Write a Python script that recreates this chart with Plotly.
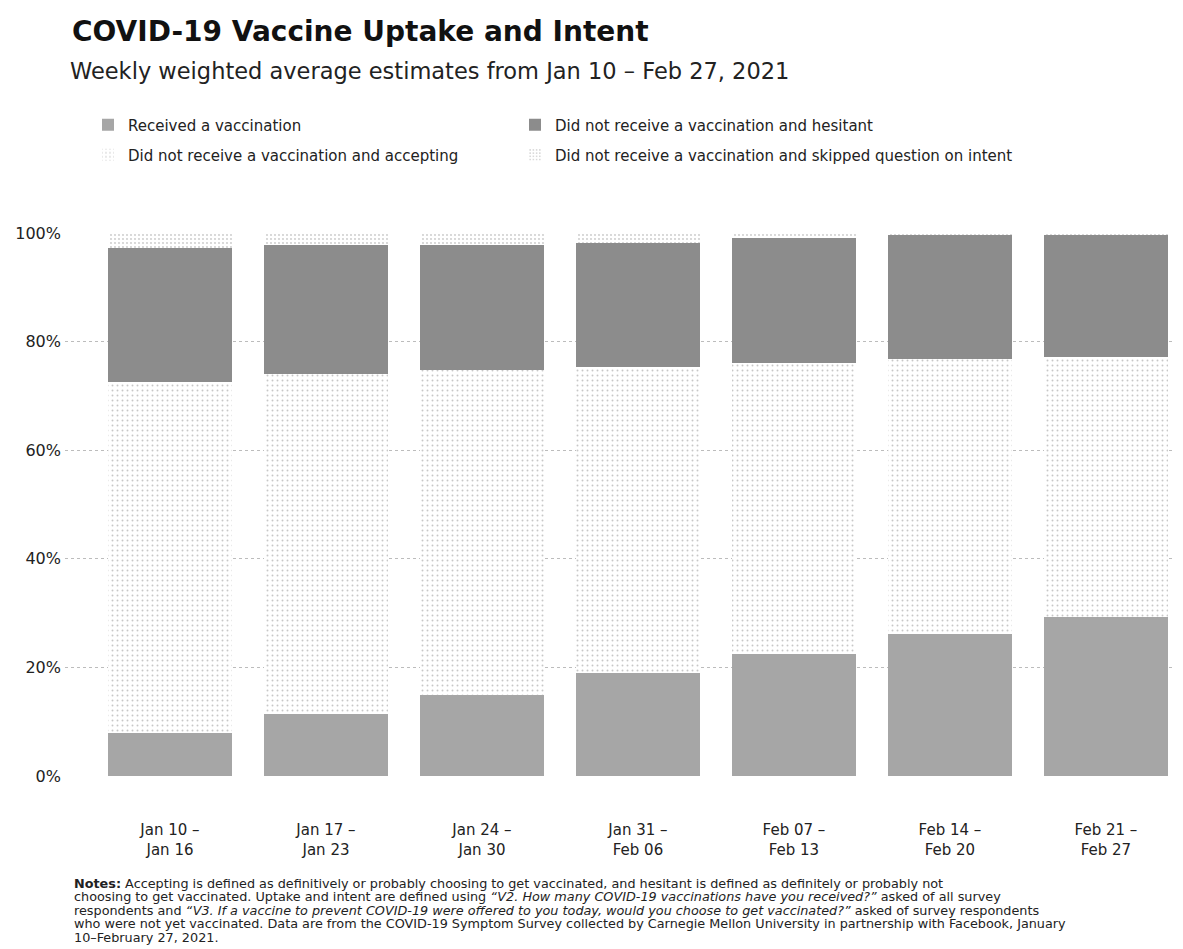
import plotly.graph_objects as go

categories = ["Jan 10 –<br>Jan 16", "Jan 17 –<br>Jan 23", "Jan 24 –<br>Jan 30", "Jan 31 –<br>Feb 06",
              "Feb 07 –<br>Feb 13", "Feb 14 –<br>Feb 20", "Feb 21 –<br>Feb 27"]
received = [8.0, 11.4, 15.0, 18.9, 22.5, 26.1, 29.2]
accepting = [64.5, 62.6, 59.8, 56.4, 53.6, 50.7, 48.0]
hesitant = [24.8, 23.8, 23.0, 22.9, 23.0, 23.0, 22.4]
skipped = [2.7, 2.2, 2.2, 1.8, 0.9, 0.2, 0.4]
y_ticks = [0, 20, 40, 60, 80, 100]
y_ticktext = ["0%", "20%", "40%", "60%", "80%", "100%"]

notes_lines = [
    "<b>Notes:</b> Accepting is defined as definitively or probably choosing to get vaccinated, and hesitant is defined as definitely or probably not",
    "choosing to get vaccinated. Uptake and intent are defined using <i>“V2. How many COVID-19 vaccinations have you received?”</i> asked of all survey",
    "respondents and <i>“V3. If a vaccine to prevent COVID-19 were offered to you today, would you choose to get vaccinated?”</i> asked of survey respondents",
    "who were not yet vaccinated. Data are from the COVID-19 Symptom Survey collected by Carnegie Mellon University in partnership with Facebook, January",
    "10–February 27, 2021.",
]

FONT = "DejaVu Sans, Liberation Sans, Arial, sans-serif"
W, H = 1175, 941
L, T, B = 57, 225, 173
PW, PH = W - L, H - T - B


def px(x):
    return (x - L) / PW


def py(y):
    return (H - B - y) / PH


fig = go.Figure()
fig.add_trace(go.Bar(x=categories, y=received, name="Received a vaccination", legend="legend",
                     marker=dict(color="#a6a6a6", line=dict(width=0))))
fig.add_trace(go.Bar(x=categories, y=accepting, name="Did not receive a vaccination and accepting", legend="legend3",
                     marker=dict(color="white", line=dict(width=0),
                                 pattern=dict(shape=".", fgcolor="#8f8f8f", bgcolor="white", size=5, solidity=0.12))))
fig.add_trace(go.Bar(x=categories, y=hesitant, name="Did not receive a vaccination and hesitant", legend="legend2",
                     marker=dict(color="#8c8c8c", line=dict(width=0))))
fig.add_trace(go.Bar(x=categories, y=skipped, name="Did not receive a vaccination and skipped question on intent",
                     legend="legend4",
                     marker=dict(color="white", line=dict(width=0),
                                 pattern=dict(shape=".", fgcolor="#8f8f8f", bgcolor="white", size=4, solidity=0.16))))

legend_common = dict(orientation="h", xref="container", yref="container", xanchor="left", yanchor="middle",
                     font=dict(size=15, family=FONT, color="#222"), bgcolor="rgba(0,0,0,0)")

annotations = [
    dict(text="<b>COVID-19 Vaccine Uptake and Intent</b>", xref="paper", yref="paper",
         x=px(62), y=py(23), xanchor="left", yanchor="middle", showarrow=False,
         font=dict(size=28, family=FONT, color="#111")),
    dict(text="Weekly weighted average estimates from Jan 10 – Feb 27, 2021", xref="paper", yref="paper",
         x=px(60), y=py(63), xanchor="left", yanchor="middle", showarrow=False,
         font=dict(size=22.5, family=FONT, color="#222")),
]
for i, line in enumerate(notes_lines):
    annotations.append(dict(text=line, xref="paper", yref="paper", x=px(64), y=py(875 + 13.5 * i),
                            xanchor="left", yanchor="middle", align="left", showarrow=False,
                            font=dict(size=12.8, family=FONT, color="#222")))

fig.update_layout(
    width=W, height=H,
    margin=dict(l=L, r=0, t=T, b=B, pad=0),
    barmode="stack", bargap=0.205,
    paper_bgcolor="white", plot_bgcolor="white",
    font=dict(family=FONT, color="#1a1a1a"),
    showlegend=True,
    legend=dict(**legend_common, x=80 / W, y=1 - 117 / H),
    legend2=dict(**legend_common, x=507 / W, y=1 - 117 / H),
    legend3=dict(**legend_common, x=80 / W, y=1 - 147 / H),
    legend4=dict(**legend_common, x=507 / W, y=1 - 147 / H),
    xaxis=dict(type="category", range=[-0.673, 6.494], showgrid=False, showline=False, zeroline=False,
               ticks="outside", ticklen=40, tickcolor="rgba(0,0,0,0)",
               tickfont=dict(size=15, family=FONT, color="#222")),
    yaxis=dict(range=[0, 100], tickvals=y_ticks, ticktext=y_ticktext, showgrid=True,
               gridcolor="#bcbcbc", griddash="dot", gridwidth=1, zeroline=False, showline=False,
               tickfont=dict(size=16, family=FONT, color="#222"), ticks="", ticklabelstandoff=3),
    annotations=annotations,
)

fig.write_html("out.html")
